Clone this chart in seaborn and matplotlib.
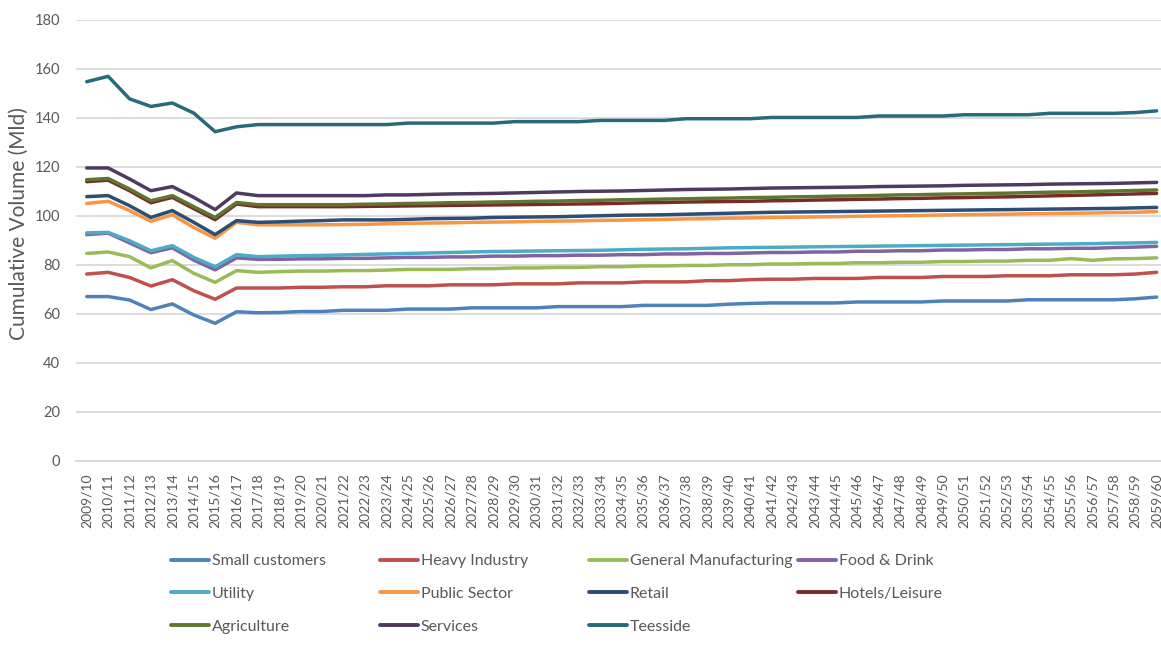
import numpy as np
import pandas as pd
import matplotlib
matplotlib.use("Agg")
import matplotlib.pyplot as plt
from matplotlib.lines import Line2D
import seaborn as sns

years = [f"{y}/{str(y + 1)[-2:]}" for y in range(2009, 2060)]

small_customers = [
    67.1, 67.1, 65.7, 61.8, 64.1, 59.6, 56.2, 60.9, 60.5, 60.6,
    61.0, 61.0, 61.5, 61.5, 61.5, 62.0, 62.0, 62.0, 62.5, 62.5,
    62.5, 62.5, 63.0, 63.0, 63.0, 63.0, 63.5, 63.5, 63.5, 63.5,
    64.0, 64.3, 64.5, 64.5, 64.5, 64.5, 64.9, 64.9, 64.9, 64.9,
    65.3, 65.3, 65.3, 65.3, 65.8, 65.8, 65.8, 65.8, 65.8, 66.2,
    66.9]
heavy_industry = [
    76.3, 77.0, 74.9, 71.4, 74.0, 69.5, 66.0, 70.6, 70.6, 70.6,
    70.9, 70.9, 71.1, 71.1, 71.5, 71.5, 71.5, 71.9, 71.9, 71.9,
    72.3, 72.3, 72.3, 72.7, 72.7, 72.7, 73.1, 73.1, 73.1, 73.6,
    73.6, 74.0, 74.2, 74.2, 74.5, 74.5, 74.5, 74.9, 74.9, 74.9,
    75.3, 75.3, 75.3, 75.6, 75.6, 75.6, 76.0, 76.0, 76.0, 76.3,
    77.0]
general_manufacturing = [
    84.7, 85.3, 83.4, 78.8, 81.8, 76.6, 72.9, 77.7, 77.0, 77.3,
    77.5, 77.5, 77.7, 77.7, 77.9, 78.2, 78.2, 78.2, 78.5, 78.5,
    78.8, 78.8, 79.0, 79.0, 79.3, 79.3, 79.6, 79.6, 79.8, 79.8,
    80.1, 80.1, 80.4, 80.4, 80.6, 80.6, 80.9, 80.9, 81.1, 81.1,
    81.4, 81.4, 81.6, 81.6, 81.9, 81.9, 82.6, 81.9, 82.5, 82.6,
    82.9]
food_drink = [
    92.4, 93.0, 89.0, 85.0, 87.0, 82.0, 78.0, 82.9, 82.3, 82.3,
    82.5, 82.5, 82.7, 82.7, 82.9, 83.1, 83.1, 83.3, 83.3, 83.6,
    83.6, 83.8, 83.8, 84.0, 84.0, 84.2, 84.2, 84.5, 84.5, 84.7,
    84.7, 84.9, 85.1, 85.1, 85.3, 85.3, 85.6, 85.6, 85.8, 85.8,
    86.1, 86.1, 86.3, 86.3, 86.6, 86.6, 86.8, 86.8, 87.1, 87.3,
    87.6]
utility = [
    93.1, 93.3, 89.9, 85.8, 87.9, 83.1, 79.3, 84.2, 83.4, 83.6,
    83.8, 83.9, 84.1, 84.3, 84.5, 84.7, 84.9, 85.1, 85.3, 85.5,
    85.6, 85.7, 85.8, 85.9, 86.0, 86.2, 86.4, 86.5, 86.6, 86.8,
    87.0, 87.1, 87.2, 87.3, 87.4, 87.5, 87.6, 87.7, 87.8, 87.9,
    88.0, 88.1, 88.2, 88.3, 88.4, 88.5, 88.6, 88.7, 88.9, 89.0,
    89.2]
public_sector = [
    105.1, 106.0, 102.2, 97.8, 100.5, 95.3, 90.9, 97.4, 96.4, 96.4,
    96.4, 96.4, 96.5, 96.6, 96.8, 97.0, 97.1, 97.2, 97.4, 97.5,
    97.6, 97.8, 97.9, 98.0, 98.2, 98.3, 98.5, 98.6, 98.8, 98.9,
    99.1, 99.2, 99.4, 99.5, 99.6, 99.7, 99.9, 100.0, 100.1, 100.2,
    100.4, 100.5, 100.6, 100.7, 100.9, 101.0, 101.1, 101.2, 101.4, 101.5,
    101.8]
retail = [
    107.9, 108.3, 104.2, 99.4, 102.2, 97.4, 92.4, 98.1, 97.4, 97.6,
    97.9, 98.1, 98.4, 98.4, 98.4, 98.6, 98.9, 99.0, 99.1, 99.4,
    99.5, 99.6, 99.7, 99.9, 100.1, 100.3, 100.4, 100.5, 100.7, 100.9,
    101.1, 101.3, 101.5, 101.6, 101.7, 101.8, 101.9, 102.0, 102.1, 102.2,
    102.3, 102.4, 102.5, 102.6, 102.7, 102.8, 102.9, 103.0, 103.1, 103.3,
    103.5]
hotels_leisure = [
    114.0, 114.6, 110.3, 105.4, 107.6, 103.0, 98.5, 104.9, 103.8, 103.8,
    103.8, 103.8, 103.8, 103.9, 104.0, 104.1, 104.2, 104.3, 104.4, 104.5,
    104.6, 104.7, 104.8, 104.9, 105.0, 105.2, 105.4, 105.5, 105.7, 105.8,
    105.9, 106.0, 106.2, 106.3, 106.5, 106.6, 106.8, 106.9, 107.1, 107.2,
    107.4, 107.5, 107.7, 107.8, 108.0, 108.2, 108.4, 108.6, 108.8, 109.0,
    109.2]
agriculture = [
    114.8, 115.3, 111.0, 106.2, 108.3, 103.8, 99.4, 105.5, 104.6, 104.6,
    104.6, 104.6, 104.6, 104.8, 104.9, 105.1, 105.2, 105.4, 105.5, 105.7,
    105.8, 106.0, 106.1, 106.3, 106.4, 106.6, 106.7, 106.9, 107.0, 107.2,
    107.3, 107.5, 107.6, 107.8, 107.9, 108.1, 108.2, 108.4, 108.6, 108.7,
    108.9, 109.0, 109.2, 109.3, 109.5, 109.7, 109.8, 110.0, 110.2, 110.4,
    110.6]
services = [
    119.6, 119.6, 115.1, 110.3, 112.0, 107.6, 102.6, 109.4, 108.3, 108.3,
    108.3, 108.3, 108.3, 108.3, 108.6, 108.6, 108.8, 109.0, 109.1, 109.2,
    109.4, 109.6, 109.8, 110.0, 110.1, 110.2, 110.4, 110.6, 110.8, 110.9,
    111.0, 111.2, 111.4, 111.5, 111.6, 111.7, 111.8, 112.0, 112.1, 112.2,
    112.3, 112.5, 112.6, 112.7, 112.8, 113.0, 113.1, 113.2, 113.3, 113.5,
    113.7]
teesside = [
    154.8, 157.0, 147.8, 144.7, 146.1, 142.0, 134.4, 136.4, 137.3, 137.3,
    137.3, 137.3, 137.3, 137.3, 137.3, 137.9, 137.9, 137.9, 137.9, 137.9,
    138.5, 138.5, 138.5, 138.5, 139.0, 139.0, 139.0, 139.0, 139.7, 139.7,
    139.7, 139.7, 140.2, 140.2, 140.2, 140.2, 140.2, 140.8, 140.8, 140.8,
    140.8, 141.3, 141.3, 141.3, 141.3, 141.9, 141.9, 141.9, 141.9, 142.2,
    142.9]

sectors = ["Small customers", "Heavy Industry", "General Manufacturing",
           "Food & Drink", "Utility", "Public Sector", "Retail",
           "Hotels/Leisure", "Agriculture", "Services", "Teesside"]
series = [small_customers, heavy_industry, general_manufacturing, food_drink,
          utility, public_sector, retail, hotels_leisure, agriculture,
          services, teesside]
colors = ["#4F81BD", "#C0504D", "#9BBB59", "#8064A2", "#4BACC6", "#F79646",
          "#2C4D75", "#772C2A", "#5F7530", "#4D3B62", "#276A7C"]

df = pd.concat(
    [pd.DataFrame({"year": years, "volume": vals, "sector": name})
     for name, vals in zip(sectors, series)],
    ignore_index=True)

sns.set_theme(style="white")
plt.rcParams["font.family"] = ["Lato", "DejaVu Sans"]
text_grey = "#595959"
grid_grey = "#D9D9D9"

fig = plt.figure(figsize=(11.61, 6.48), dpi=100)
ax = fig.add_axes([0.0655, 0.2886, 0.940, 0.6806])

sns.lineplot(data=df, x="year", y="volume", hue="sector",
             hue_order=sectors, palette=colors, linewidth=2.5,
             legend=False, sort=False, ax=ax)
for ln in ax.get_lines():
    ln.set_solid_capstyle("round")
    ln.set_solid_joinstyle("round")

ax.set_xlim(-0.5, len(years) - 0.5)
ax.set_ylim(0, 180)
ax.set_yticks(np.arange(0, 181, 20))
ax.yaxis.grid(True, color=grid_grey, linewidth=1.3)
ax.xaxis.grid(False)
for side in ["top", "right", "left"]:
    ax.spines[side].set_visible(False)
ax.spines["bottom"].set_color(grid_grey)
ax.spines["bottom"].set_linewidth(1.3)

ax.tick_params(axis="x", length=0, pad=9, labelsize=10, colors=text_grey,
               labelrotation=90)
ax.tick_params(axis="y", length=0, pad=11.5, labelsize=10.5, colors=text_grey)
ax.set_xlabel("")
ax.set_ylabel("Cumulative Volume (Mld)", fontsize=15, color=text_grey)
ax.yaxis.set_label_coords(-0.043, 0.5385)

# Legend laid out in four equally spaced columns below the plot
handles = [Line2D([0], [0], color=c, linewidth=2.8) for c in colors]
col_x = [171, 380, 589, 798]
for j, x0 in enumerate(col_x):
    idx = list(range(j, len(sectors), 4))
    leg = fig.legend([handles[i] for i in idx], [sectors[i] for i in idx],
                     loc="upper left", bbox_to_anchor=(x0 / 1161, 1 - 554 / 648),
                     frameon=False, fontsize=11.5, handlelength=2.35,
                     handletextpad=0.19, labelspacing=1.16, borderpad=0,
                     borderaxespad=0)
    for t in leg.get_texts():
        t.set_color(text_grey)

fig.savefig("out.png", dpi=100)
